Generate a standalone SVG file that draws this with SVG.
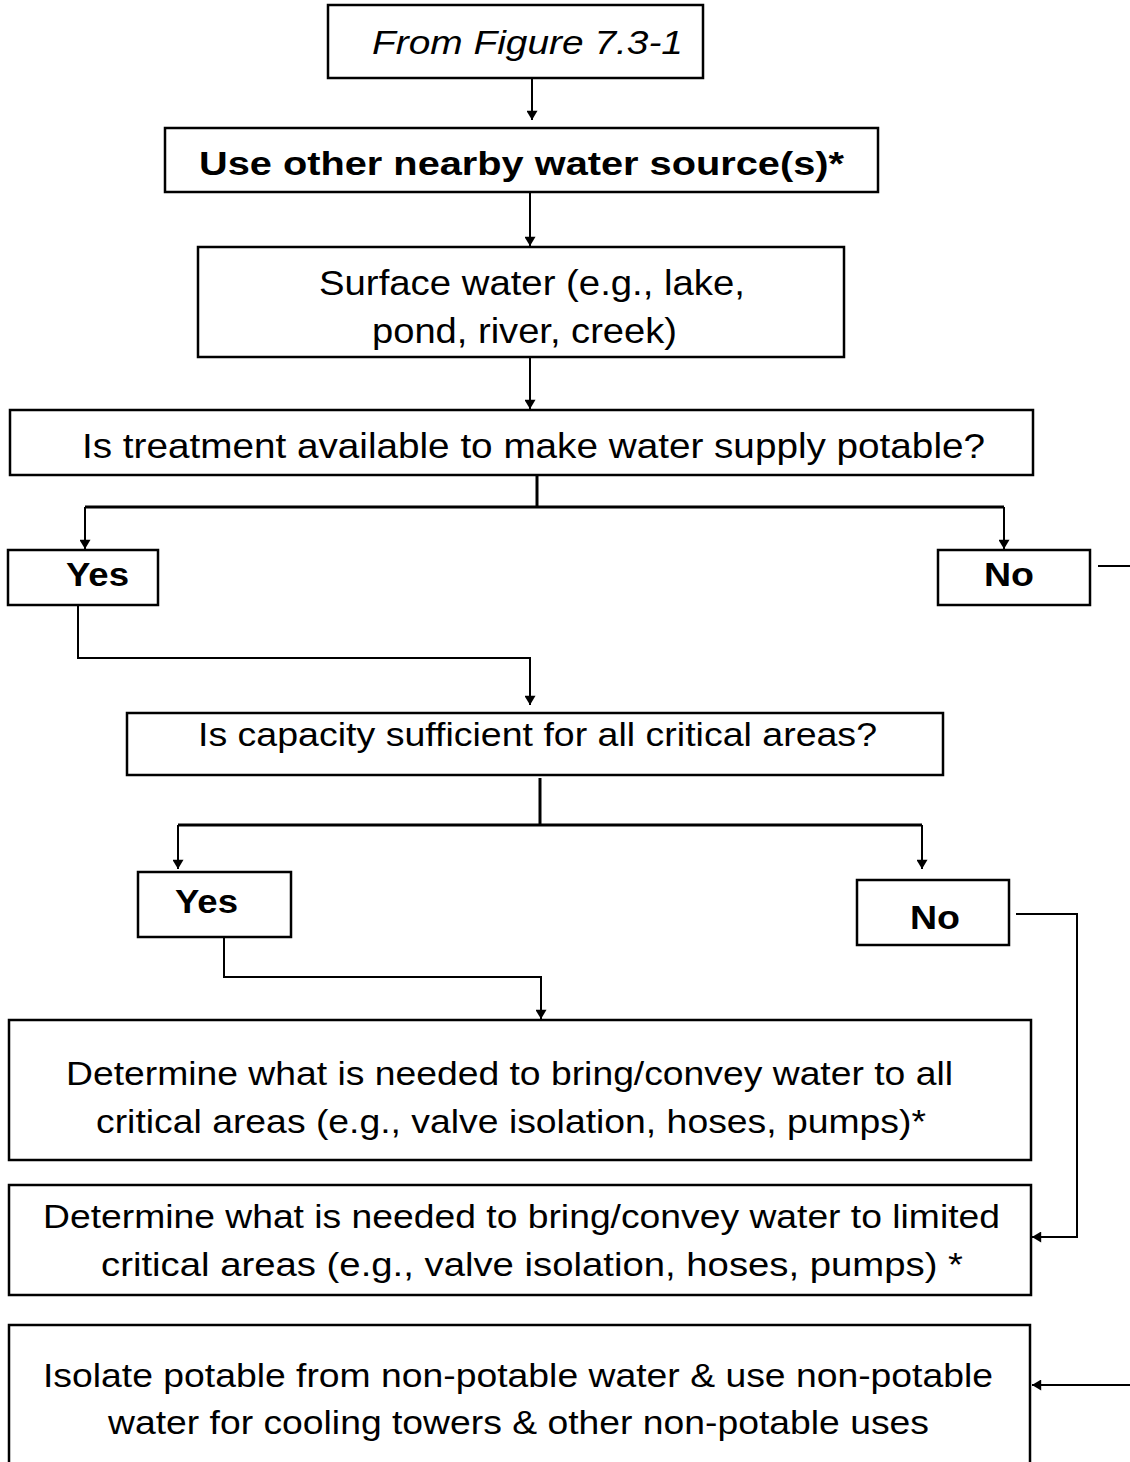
<svg xmlns="http://www.w3.org/2000/svg" width="1130" height="1462" viewBox="0 0 1130 1462">
<style>
.box{fill:#fff;stroke:#000;stroke-width:2.5}
.t{font-family:"Liberation Sans",Arial,sans-serif;font-size:33px;fill:#000}
.b{font-weight:bold}
.i{font-style:italic}
.l{font-size:35px}
.c{fill:none;stroke:#000;stroke-width:2}
.thick{stroke-width:3}
</style>
<defs>
<marker id="ah" viewBox="0 0 10 12" refX="10" refY="6" markerWidth="12" markerHeight="11" markerUnits="userSpaceOnUse" orient="auto">
<path d="M0,0 L10,6 L0,12 z" fill="#000"/>
</marker>
</defs>
<rect width="1130" height="1462" fill="#fff"/>
<g id="connectors">
<path class="c" d="M532,78 V120" marker-end="url(#ah)"/>
<path class="c" d="M530,192 V246" marker-end="url(#ah)"/>
<path class="c" d="M530,357 V409" marker-end="url(#ah)"/>
<path class="c thick" d="M537,475 V507"/>
<path class="c thick" d="M85,507 H1004"/>
<path class="c" d="M85,507 V549" marker-end="url(#ah)"/>
<path class="c" d="M1004,507 V549" marker-end="url(#ah)"/>
<path class="c" d="M1098,566 H1130"/>
<path class="c" d="M78,605 V658 H530 V705" marker-end="url(#ah)"/>
<path class="c thick" d="M540,778 V825"/>
<path class="c thick" d="M178,825 H922"/>
<path class="c" d="M178,825 V869" marker-end="url(#ah)"/>
<path class="c" d="M922,825 V869" marker-end="url(#ah)"/>
<path class="c" d="M1016,914 H1077 V1237 H1032" marker-end="url(#ah)"/>
<path class="c" d="M224,937 V977 H541 V1019" marker-end="url(#ah)"/>
<path class="c" d="M1130,1385 H1032" marker-end="url(#ah)"/>
</g>
<g id="n1"><rect class="box" x="328" y="5" width="375" height="73"/><text class="t i" x="372" y="54" textLength="311" lengthAdjust="spacingAndGlyphs">From Figure 7.3-1</text></g>
<g id="n2"><rect class="box" x="165" y="128" width="713" height="64"/><text class="t b" x="199" y="175" textLength="645" lengthAdjust="spacingAndGlyphs">Use other nearby water source(s)*</text></g>
<g id="n3"><rect class="box" x="198" y="247" width="646" height="110"/><text class="t l" x="319" y="295" textLength="426" lengthAdjust="spacingAndGlyphs">Surface water (e.g., lake,</text><text class="t l" x="372" y="343" textLength="305" lengthAdjust="spacingAndGlyphs">pond, river, creek)</text></g>
<g id="n4"><rect class="box" x="10" y="410" width="1023" height="65"/><text class="t l" x="82" y="458" textLength="903" lengthAdjust="spacingAndGlyphs">Is treatment available to make water supply potable?</text></g>
<g id="n5"><rect class="box" x="8" y="550" width="150" height="55"/><text class="t b" x="66" y="586" textLength="63" lengthAdjust="spacingAndGlyphs">Yes</text></g>
<g id="n6"><rect class="box" x="938" y="550" width="152" height="55"/><text class="t b" x="984" y="586" textLength="50" lengthAdjust="spacingAndGlyphs">No</text></g>
<g id="n7"><rect class="box" x="127" y="713" width="816" height="62"/><text class="t" x="198" y="746" textLength="679" lengthAdjust="spacingAndGlyphs">Is capacity sufficient for all critical areas?</text></g>
<g id="n8"><rect class="box" x="138" y="872" width="153" height="65"/><text class="t b" x="175" y="913" textLength="63" lengthAdjust="spacingAndGlyphs">Yes</text></g>
<g id="n9"><rect class="box" x="857" y="880" width="152" height="65"/><text class="t b" x="910" y="929" textLength="50" lengthAdjust="spacingAndGlyphs">No</text></g>
<g id="n10"><rect class="box" x="9" y="1020" width="1022" height="140"/><text class="t" x="66" y="1085" textLength="887" lengthAdjust="spacingAndGlyphs">Determine what is needed to bring/convey water to all</text><text class="t" x="96" y="1133" textLength="830" lengthAdjust="spacingAndGlyphs">critical areas (e.g., valve isolation, hoses, pumps)*</text></g>
<g id="n11"><rect class="box" x="9" y="1185" width="1022" height="110"/><text class="t" x="43" y="1228" textLength="957" lengthAdjust="spacingAndGlyphs">Determine what is needed to bring/convey water to limited</text><text class="t" x="101" y="1276" textLength="862" lengthAdjust="spacingAndGlyphs">critical areas (e.g., valve isolation, hoses, pumps) *</text></g>
<g id="n12"><rect class="box" x="9" y="1325" width="1021" height="150"/><text class="t" x="43" y="1387" textLength="950" lengthAdjust="spacingAndGlyphs">Isolate potable from non-potable water &amp; use non-potable</text><text class="t" x="108" y="1434" textLength="821" lengthAdjust="spacingAndGlyphs">water for cooling towers &amp; other non-potable uses</text></g>
</svg>
